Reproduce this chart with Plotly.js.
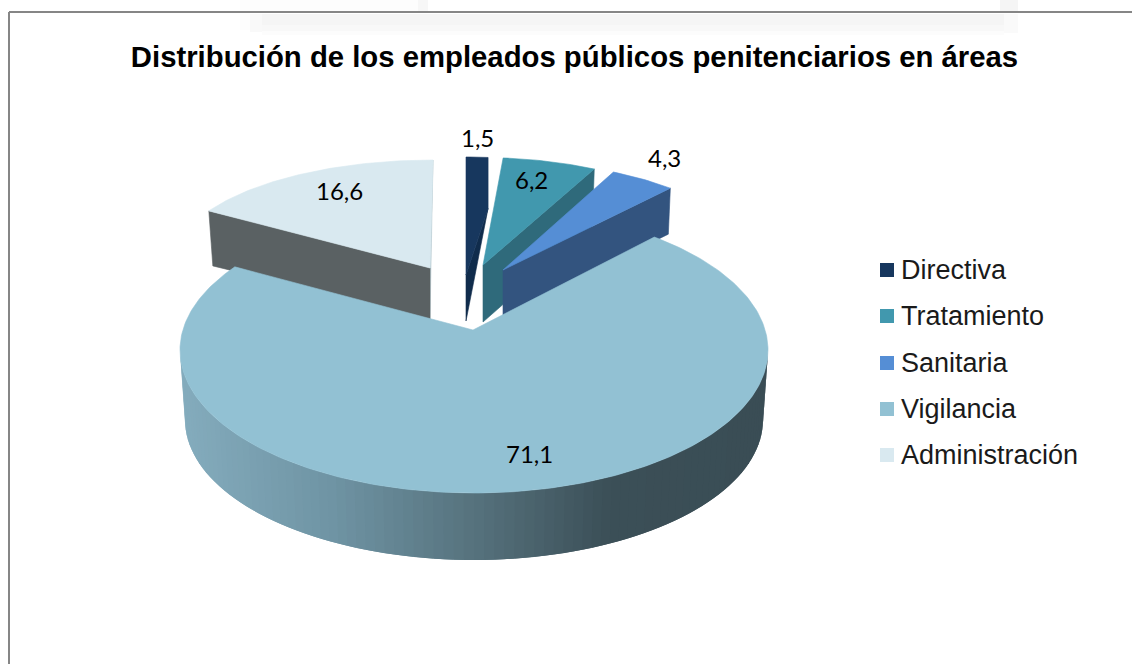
<!DOCTYPE html>
<html>
<head>
<meta charset="utf-8">
<script src="https://cdn.plot.ly/plotly-3.0.1.min.js"></script>
<style>html,body{margin:0;padding:0;background:#fff}#chart{width:1132px;height:664px}</style>
</head>
<body>
<div id="chart"></div>
<script>
// ---- data ----
const categories = ["Directiva", "Tratamiento", "Sanitaria", "Vigilancia", "Administración"];
const values = [1.5, 6.2, 4.3, 71.1, 16.6];
const chartTitle = "Distribución de los empleados públicos penitenciarios en áreas";

// ---- styles ----
const faceColors = ["#17375e", "#4198ae", "#558ed5", "#92c1d3", "#d9e9f0"];
const wallColors = ["#102c4c", "#2f6a7b", "#33547f", null, "#5a6163"];

// ---- drawing geometry: one exploded, tilted ellipse per slice ----
const sliceGeom = [
  {cx:466, cy:257, rx:234, ry:100, ax:466, ay:275, depth:46, drop:51},
  {cx:480, cy:257.5, rx:245, ry:100, ax:483, ay:265, depth:57, drop:0},
  {cx:492.6, cy:262.8, rx:259, ry:102.6, ax:503, ay:270, depth:46, drop:0},
  {cx:474, cy:350, rx:294, ry:143, ax:473, ay:330, spread:5.5,
   bottom:{cx:474, cy:420, rx:289, ry:140}},
  {cx:433, cy:262, rx:259, ry:102, ax:430, ay:268, depth:51, drop:0}
];
const labelPos = [[477,137],[531,179],[664,157],[529,453],[339,190]];
const legendX = 887, legendTextX = 900, legendY = [270,316,363,409,455];
const wallStops = [[180,[132,172,189]],[330,[111,148,164]],[474,[86,114,125]],[610,[59,79,87]],[768,[58,77,85]]];

// ---- slice angles from the values ----
const total = values.reduce((a,b)=>a+b,0);
let running = 0;
const angles = values.map(v => { const a0 = running/total*360; running += v; return [a0, running/total*360]; });

const rad = d => d*Math.PI/180;
const onEll = (g,a) => [g.cx + g.rx*Math.sin(rad(a)), g.cy - g.ry*Math.cos(rad(a))];
function arc(g,a0,a1,step){
  const n = Math.max(2, Math.ceil(Math.abs(a1-a0)/(step||1)));
  const out = [];
  for(let i=0;i<=n;i++) out.push(onEll(g, a0+(a1-a0)*i/n));
  return out;
}
const traces = [];
function poly(pts,color,lw){
  const p = pts.concat([pts[0]]);
  traces.push({type:"scatter",mode:"lines",x:p.map(q=>q[0]),y:p.map(q=>q[1]),fill:"toself",fillcolor:color,
    line:{color:color,width:lw===undefined?0.6:lw},showlegend:false,hoverinfo:"skip"});
}
function wallColor(x){
  for(let i=0;i<wallStops.length-1;i++){
    const a=wallStops[i],b=wallStops[i+1];
    if(x<=b[0]){
      const t=Math.max(0,(x-a[0])/(b[0]-a[0]));
      return "rgb("+a[1].map((c,k)=>Math.round(c+(b[1][k]-c)*t)).join(",")+")";
    }
  }
  return "rgb("+wallStops[wallStops.length-1][1].join(",")+")";
}

// draw back to front: Administración, Directiva, Tratamiento, Sanitaria, Vigilancia
[4,0,1,2].forEach(i=>{
  const g = sliceGeom[i], a = angles[i];
  const rim = arc(g,a[0],a[1]);
  if(i===4){
    const s = rim[0], e = rim[rim.length-1];
    poly([e,[g.ax,g.ay],[g.ax,g.ay+g.depth]],"#b8cbd2");
    poly([s,[g.ax,g.ay],[g.ax,g.ay+g.depth],[s[0]+4,s[1]+g.depth+4]],wallColors[i]);
    poly([[g.ax,g.ay]].concat(rim),faceColors[i]);
  } else {
    const e = rim[rim.length-1];
    if(g.drop){
      const sh = [e[0],e[1]+g.drop];
      poly([[g.ax,g.ay],[g.ax,g.ay+g.depth],sh],wallColors[i]);
      poly([[g.ax,g.ay]].concat(rim,[sh]),faceColors[i]);
    } else {
      poly([e,[g.ax,g.ay],[g.ax,g.ay+g.depth],[e[0]-2,e[1]+g.depth]],wallColors[i]);
      poly([[g.ax,g.ay]].concat(rim),faceColors[i]);
    }
  }
});
// Vigilancia: shaded rim wall (bands painted left to right, each overlapping the next), then the top face
(function(){
  const g = sliceGeom[3], a = angles[3], b = g.bottom;
  const step = 2;
  for(let t=270;t>90;t-=step){
    const end = Math.max(90,t-2*step);
    const band = arc(g,t,end,step/2).concat(arc(b,end,t,step/2));
    const mid = onEll(g,t-step/2);
    poly(band,wallColor(mid[0]),0);
  }
  poly([[g.ax,g.ay]].concat(arc(g,a[0]-g.spread,a[1]+g.spread)),faceColors[3]);
})();

// legend swatches
traces.push({type:"scatter",mode:"markers",x:legendY.map(()=>legendX),y:legendY,
  marker:{symbol:"square",size:14,color:faceColors,line:{width:0}},showlegend:false,hoverinfo:"skip"});

const annotations = [];
values.forEach((v,i)=>annotations.push({x:labelPos[i][0],y:labelPos[i][1],xref:"x",yref:"y",
  text:String(v).replace(".",","),showarrow:false,xanchor:"center",yanchor:"middle",borderpad:0,
  font:{family:"Lato",size:24,color:"#000"}}));
categories.forEach((c,i)=>annotations.push({x:legendTextX,y:legendY[i],xref:"x",yref:"y",text:c,showarrow:false,
  xanchor:"left",yanchor:"middle",borderpad:0,font:{family:"Liberation Sans",size:27,color:"#1a1a1a"}}));

const rectShape = (x0,y0,x1,y1,c)=>({type:"rect",layer:"below",xref:"x",yref:"y",x0,y0,x1,y1,fillcolor:c,line:{width:0}});
const shapes = [
  rectShape(240,14,250,30,"#fdfdfd"),
  rectShape(250,14,262,32,"#f9f9f9"),
  rectShape(262,14,1004,25,"#f5f5f5"),
  rectShape(262,25,1004,31,"#f8f8f8"),
  rectShape(262,31,1004,35,"#fcfcfc"),
  rectShape(1004,14,1018,33,"#fafafa"),
  rectShape(1000,0,1018,12,"#f5f5f5"),
  rectShape(418,0,428,12,"#f7f7f7"),
  rectShape(240,0,418,11,"#fdfdfd"),
  {type:"line",layer:"above",xref:"x",yref:"y",x0:9,y0:12,x1:1132,y1:12,line:{color:"#868686",width:2}},
  {type:"line",layer:"above",xref:"x",yref:"y",x0:9,y0:12,x1:9,y1:664,line:{color:"#868686",width:2}}
];

const layout = {
  width:1132,height:664,margin:{l:0,r:0,t:0,b:0},paper_bgcolor:"#fff",plot_bgcolor:"rgba(0,0,0,0)",
  showlegend:false,hovermode:false,
  title:{text:"<b>"+chartTitle+"</b>",x:574.5/1132,xanchor:"center",y:1-57/664,yanchor:"middle",yref:"container",
    font:{family:"Liberation Sans",size:29.3,color:"#000"}},
  xaxis:{range:[0,1132],visible:false,fixedrange:true},
  yaxis:{range:[664,0],visible:false,fixedrange:true},
  annotations,shapes
};
Plotly.newPlot("chart",traces,layout,{displayModeBar:false,staticPlot:true});
</script>
</body>
</html>
